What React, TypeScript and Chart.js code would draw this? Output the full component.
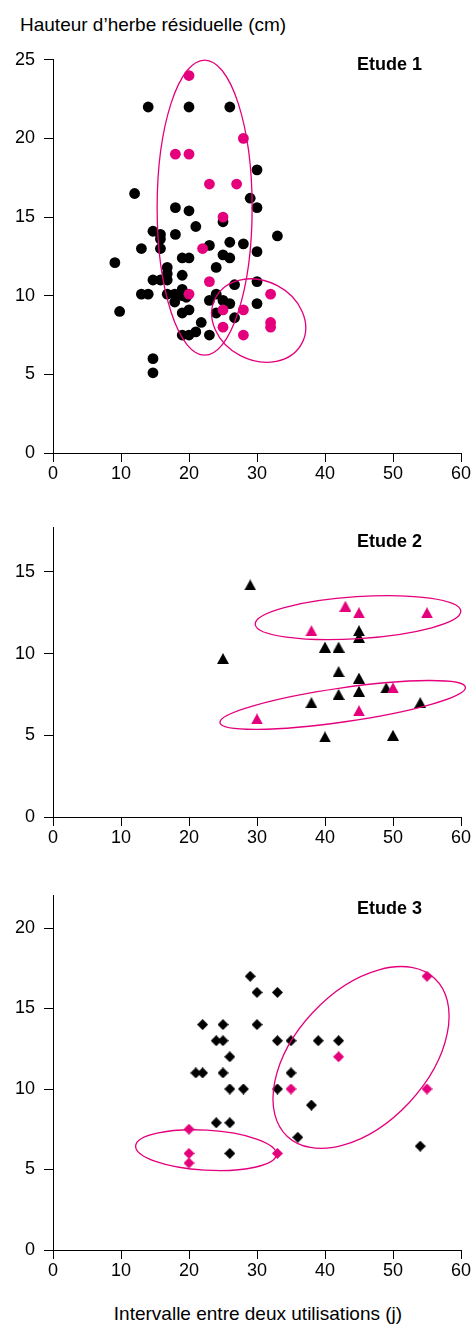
import React, { useEffect, useRef } from 'react';
import { Chart, registerables } from 'chart.js';

Chart.register(...registerables);

const MAGENTA = '#E4007C';
const BLACK = '#000000';
const FONT = "'Liberation Sans', Arial, Helvetica, sans-serif";

// ---------- Data ----------
const xTicksMax = 60;

const etude1Black: [number, number][] = [
  [14, 22], [20, 22], [26, 22], [30, 18], [12, 16.5], [29, 16.2], [18, 15.6], [20, 15.4],
  [30, 15.6], [25, 14.7], [21, 14.4], [14.7, 14.1], [15.8, 13.9], [18, 13.9], [33, 13.8],
  [15.8, 13.6], [26, 13.4], [28, 13.3], [23, 13.2], [13, 13], [15.8, 13], [25, 12.6],
  [30, 12.8], [9.1, 12.1], [19, 12.4], [20, 12.4], [26, 12.4], [16.8, 11.8], [24, 11.8],
  [14.7, 11], [15.8, 11], [16.8, 11.4], [16.8, 11], [19, 11.3], [26.7, 10.7], [30, 10.9],
  [13, 10.1], [14, 10.1], [16.8, 10.1], [17.9, 10.1], [19, 10.4], [19, 10], [17.9, 9.6],
  [19.6, 9.9], [24, 10.1], [23, 9.7], [25, 9.7], [26, 9.5], [30, 9.5], [9.8, 9],
  [19, 8.9], [20, 9.1], [24, 8.9], [26.7, 8.6], [21.8, 8.3], [19, 7.5], [20, 7.5],
  [21, 7.7], [23, 7.5], [14.7, 6], [14.7, 5.1],
];
const etude1Magenta: [number, number][] = [
  [20, 24], [28, 20], [18, 19], [20, 19], [23, 17.1], [27, 17.1], [25, 15], [22, 13],
  [23, 10.9], [20, 10.1], [32, 10.1], [25, 9.1], [28, 9.1], [25, 8], [32, 8.3], [32, 8],
  [28, 7.5],
];

const etude2Black: [number, number][] = [
  [29, 14.2], [45, 11.4], [45, 11], [40, 10.4], [42, 10.4], [25, 9.7], [42, 8.9],
  [45, 8.5], [45, 7.7], [42, 7.5], [49, 7.9], [54, 7], [38, 7], [40, 4.9], [50, 5],
];
const etude2Magenta: [number, number][] = [
  [43, 12.9], [45, 12.5], [55, 12.5], [38, 11.4], [50, 7.9], [45, 6.5], [30, 6],
];

const etude3Black: [number, number][] = [
  [29, 17], [30, 16], [33, 16], [22, 14], [25, 14], [30, 14], [24, 13], [25, 13],
  [33, 13], [35, 13], [39, 13], [42, 13], [26, 12], [21, 11], [22, 11], [25, 11],
  [35, 11], [26, 10], [28, 10], [33, 10], [38, 9], [24, 7.9], [26, 7.9], [36, 7],
  [54, 6.45], [26, 6],
];
const etude3Magenta: [number, number][] = [
  [55, 17], [42, 12], [35, 10], [55, 10], [20, 7.5], [20, 6], [33, 6], [20, 5.4],
];

// Ellipses: center in data units, radii in px, rotation in degrees
type Ell = { cx: number; cy: number; rx: number; ry: number; rot: number };
const etude1Ellipses: Ell[] = [
  { cx: 22.3, cy: 15.6, rx: 47.5, ry: 147.5, rot: 0 },
  { cx: 30.25, cy: 8.42, rx: 48.8, ry: 39.6, rot: 27.5 },
];
const etude2Ellipses: Ell[] = [
  { cx: 44.85, cy: 12.2, rx: 103, ry: 21, rot: -3.7 },
  { cx: 42.6, cy: 6.86, rx: 124, ry: 17, rot: -8.2 },
];
const etude3Ellipses: Ell[] = [
  { cx: 22.5, cy: 6.2, rx: 70.5, ry: 20, rot: 3.4 },
  { cx: 45.3, cy: 11.96, rx: 108, ry: 66, rot: -47 },
];

// ---------- Helpers ----------
function makeTriangle(color: string, w: number, h: number): HTMLCanvasElement {
  const c = document.createElement('canvas');
  c.width = w; c.height = h;
  const ctx = c.getContext('2d')!;
  ctx.fillStyle = color;
  ctx.beginPath();
  ctx.moveTo(0, h);
  ctx.lineTo(w / 2, 0);
  ctx.lineTo(w, h);
  ctx.closePath();
  ctx.fill();
  return c;
}
function makeDiamond(color: string, s: number): HTMLCanvasElement {
  const c = document.createElement('canvas');
  c.width = s; c.height = s;
  const ctx = c.getContext('2d')!;
  ctx.fillStyle = color;
  ctx.beginPath();
  ctx.moveTo(s / 2, 0);
  ctx.lineTo(s, s / 2);
  ctx.lineTo(s / 2, s);
  ctx.lineTo(0, s / 2);
  ctx.closePath();
  ctx.fill();
  return c;
}

const ellipsePlugin = {
  id: 'ellipses',
  afterDatasetsDraw(chart: any, _args: any, opts: any) {
    const { ctx, scales } = chart;
    const xs = scales.x, ys = scales.y;
    ctx.save();
    ctx.strokeStyle = MAGENTA;
    ctx.lineWidth = 1.3;
    for (const e of (opts.items || []) as Ell[]) {
      ctx.beginPath();
      ctx.ellipse(xs.getPixelForValue(e.cx), ys.getPixelForValue(e.cy), e.rx, e.ry,
        (e.rot * Math.PI) / 180, 0, Math.PI * 2);
      ctx.stroke();
    }
    ctx.restore();
  },
};

type Cfg = {
  black: [number, number][];
  magenta: [number, number][];
  shape: 'circle' | 'triangle' | 'diamond';
  yMax: number;
  padTop: number;
  xAxisH: number;
  width: number;
  height: number;
  ellipses: Ell[];
};

function ScatterPanel({ cfg, top }: { cfg: Cfg; top: number }) {
  const ref = useRef<HTMLCanvasElement | null>(null);
  useEffect(() => {
    if (!ref.current) return;
    let styleB: any = 'circle', styleM: any = 'circle', radius = 5.4;
    if (cfg.shape === 'triangle') {
      styleB = makeTriangle(BLACK, 12, 11);
      styleM = makeTriangle(MAGENTA, 12, 11);
    } else if (cfg.shape === 'diamond') {
      styleB = makeDiamond(BLACK, 11);
      styleM = makeDiamond(MAGENTA, 11);
    }
    const tickFont = { family: FONT, size: 18 };
    const chart = new Chart(ref.current, {
      type: 'scatter',
      data: {
        datasets: [
          {
            data: cfg.magenta.map(([x, y]) => ({ x, y })),
            backgroundColor: MAGENTA,
            borderColor: MAGENTA,
            borderWidth: 0,
            pointStyle: styleM,
            pointRadius: radius,
            pointHoverRadius: radius,
          },
          {
            data: cfg.black.map(([x, y]) => ({ x, y })),
            backgroundColor: BLACK,
            borderColor: BLACK,
            borderWidth: 0,
            pointStyle: styleB,
            pointRadius: radius,
            pointHoverRadius: radius,
          },
        ],
      },
      options: {
        animation: false,
        responsive: false,
        events: [],
        layout: { padding: { top: cfg.padTop, right: 13, left: 0, bottom: 0 } },
        plugins: {
          legend: { display: false },
          tooltip: { enabled: false },
          // @ts-ignore
          ellipses: { items: cfg.ellipses },
        },
        scales: {
          x: {
            type: 'linear',
            min: 0,
            max: xTicksMax,
            ticks: { stepSize: 10, color: BLACK, font: tickFont, padding: 1, maxRotation: 0 },
            grid: { drawOnChartArea: false, drawTicks: true, tickLength: 9, color: BLACK, lineWidth: 1 },
            border: { display: true, color: BLACK, width: 1 },
            afterFit: (s: any) => { s.height = cfg.xAxisH; },
          },
          y: {
            type: 'linear',
            min: 0,
            max: cfg.yMax,
            ticks: { stepSize: 5, includeBounds: false, color: BLACK, font: tickFont, padding: 9 },
            grid: { drawOnChartArea: false, drawTicks: true, tickLength: 9, color: BLACK, lineWidth: 1 },
            border: { display: true, color: BLACK, width: 1 },
            afterFit: (s: any) => { s.width = 53; },
          },
        },
      } as any,
      plugins: [ellipsePlugin],
    });
    return () => chart.destroy();
  }, [cfg]);
  return (
    <canvas
      ref={ref}
      width={cfg.width}
      height={cfg.height}
      style={{ position: 'absolute', left: 0, top, width: cfg.width, height: cfg.height }}
    />
  );
}

const cfg1: Cfg = {
  black: etude1Black, magenta: etude1Magenta, shape: 'circle', yMax: 25,
  padTop: 18, xAxisH: 37, width: 474, height: 450, ellipses: etude1Ellipses,
};
const cfg2: Cfg = {
  black: etude2Black, magenta: etude2Magenta, shape: 'triangle', yMax: 17.7,
  padTop: 19, xAxisH: 43, width: 474, height: 352, ellipses: etude2Ellipses,
};
const cfg3: Cfg = {
  black: etude3Black, magenta: etude3Magenta, shape: 'diamond', yMax: 22,
  padTop: 18, xAxisH: 40, width: 474, height: 414, ellipses: etude3Ellipses,
};

const labelStyle: React.CSSProperties = {
  position: 'absolute',
  fontFamily: FONT,
  fontWeight: 'bold',
  fontSize: 18,
  lineHeight: '18px',
  color: BLACK,
  whiteSpace: 'nowrap',
};

export default function App() {
  return (
    <div style={{ position: 'absolute', left: 0, top: 0, width: 474, height: 1330, background: '#fff', overflow: 'hidden' }}>
      <div style={{ position: 'absolute', left: 20, top: 15, fontFamily: FONT, fontSize: 19, lineHeight: '19px', color: BLACK, whiteSpace: 'nowrap' }}>
        Hauteur d’herbe résiduelle (cm)
      </div>
      <ScatterPanel cfg={cfg1} top={40} />
      <ScatterPanel cfg={cfg2} top={508} />
      <ScatterPanel cfg={cfg3} top={876} />
      <div style={{ ...labelStyle, left: 357, top: 55 }}>Etude 1</div>
      <div style={{ ...labelStyle, left: 357, top: 532 }}>Etude 2</div>
      <div style={{ ...labelStyle, left: 357, top: 899 }}>Etude 3</div>
      <div style={{ position: 'absolute', left: 258, top: 1304, transform: 'translateX(-50%)', fontFamily: FONT, fontSize: 19, lineHeight: '19px', color: BLACK, whiteSpace: 'nowrap' }}>
        Intervalle entre deux utilisations (j)
      </div>
    </div>
  );
}
